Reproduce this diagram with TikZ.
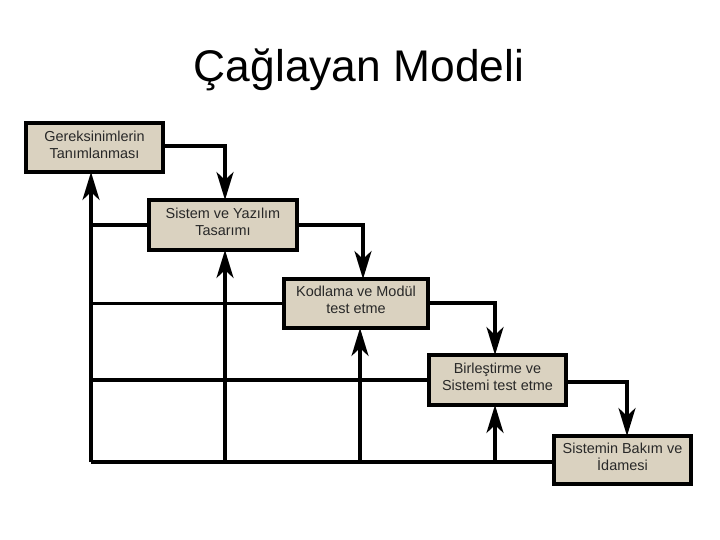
\documentclass[tikz,border=0pt]{standalone}
\usepackage{fontspec}
\setmainfont{Liberation Sans}
\usetikzlibrary{arrows.meta}
\definecolor{boxfill}{RGB}{218,210,192}
\definecolor{boxtext}{RGB}{40,40,40}
\tikzset{
  phase/.style={draw=black, line width=3.5bp, fill=boxfill, inner sep=0pt, outer sep=0pt},
  phasetext/.style={text=boxtext, align=center, font=\fontsize{14.5}{16.5}\selectfont},
  flow/.style={line width=3.3bp, -{Stealth[length=28bp, width=17bp, inset=8bp]}},
  plain/.style={line width=3.3bp},
}
\begin{document}
\begin{tikzpicture}[x=1bp, y=-1bp]
\useasboundingbox (0,0) rectangle (720,540);
% title
\node[anchor=base, font=\fontsize{44.5}{50}\selectfont] (title) at (359,82) {Çağlayan Modeli};
% boxes
\node[phase, minimum width=137bp, minimum height=49bp] (b1) at (94.5,147.5) {};
\node[phase, minimum width=148bp, minimum height=50bp] (b2) at (223,225) {};
\node[phase, minimum width=144bp, minimum height=49bp] (b3) at (356,303.5) {};
\node[phase, minimum width=137bp, minimum height=50bp] (b4) at (497.5,380) {};
\node[phase, minimum width=137bp, minimum height=48bp] (b5) at (622.5,460) {};
% texts
\node[phasetext] (t1) at (94.5,145) {Gereksinimlerin\\Tanımlanması};
\node[phasetext] (t2) at (223,222) {Sistem ve Yazılım\\Tasarımı};
\node[phasetext] (t3) at (356,300) {Kodlama ve Modül\\test etme};
\node[phasetext] (t4) at (497.5,377) {Birleştirme ve\\Sistemi test etme};
\node[phasetext] (t5) at (622.5,457) {Sistemin Bakım ve\\İdamesi};
% forward flow
\coordinate (k1) at (225,146);
\coordinate (k2) at (363,225);
\coordinate (k3) at (495,303);
\coordinate (k4) at (627,382);
\draw[flow] (b1.east |- k1) -- (k1) -- (k1 |- b2.north);
\draw[flow] (b2.east |- k2) -- (k2) -- (k2 |- b3.north);
\draw[flow] (b3.east |- k3) -- (k3) -- (k3 |- b4.north);
\draw[flow] (b4.east |- k4) -- (k4) -- (k4 |- b5.north);
% feedback
\coordinate (f0) at (91,462);
\coordinate (f1) at (225,462);
\coordinate (f2) at (360,462);
\coordinate (f3) at (495,462);
\draw[plain] (f0) -- (f0 -| b5.west);
\draw[plain] (f0 |- b2.west) -- (b2.west);
\draw[plain] (f0 |- b3.west) -- (b3.west);
\draw[plain] (f0 |- b4.west) -- (b4.west);
\draw[flow] (f0) -- (f0 |- b1.south);
\draw[flow] (f1) -- (f1 |- b2.south);
\draw[flow] (f2) -- (f2 |- b3.south);
\draw[flow] (f3) -- (f3 |- b4.south);
\end{tikzpicture}
\end{document}
